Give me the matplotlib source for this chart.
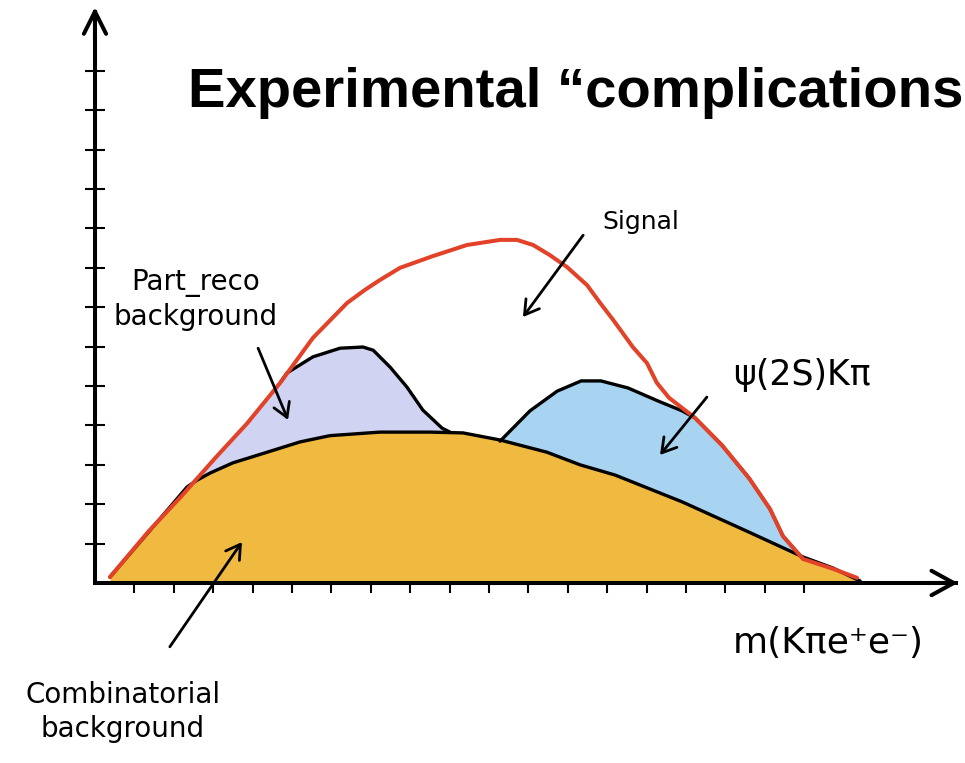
import numpy as np
import matplotlib
matplotlib.use('Agg')
import matplotlib.pyplot as plt

# curve values (x and y in tick units)
signal_x = [0.38, 1.36, 2.20, 3.05, 3.86, 4.70, 5.53, 6.40, 6.85, 7.23, 7.74, 8.58, 9.44,
            10.28, 10.71, 11.12, 11.55, 11.98, 12.49, 12.82, 13.15, 13.65, 14.01, 14.26, 14.57,
            15.23, 15.91, 16.60, 17.13, 17.46, 17.97, 18.73, 19.34]
signal_y = [0.15, 1.31, 2.21, 3.17, 4.05, 5.08, 6.22, 7.11, 7.44, 7.69, 8.00, 8.30, 8.58,
            8.71, 8.71, 8.58, 8.32, 8.02, 7.56, 7.11, 6.68, 5.99, 5.58, 5.08, 4.70,
            4.19, 3.50, 2.66, 1.88, 1.19, 0.61, 0.36, 0.13]

comb_x = [0.38, 1.47, 2.34, 2.59, 2.92, 3.50, 4.37, 5.20, 5.96, 7.23, 8.50, 9.34, 10.28, 11.47,
          12.31, 13.20, 14.90, 16.60, 17.97, 18.73, 19.42]
comb_y = [0.15, 1.42, 2.44, 2.61, 2.79, 3.05, 3.32, 3.58, 3.74, 3.83, 3.83, 3.81, 3.63, 3.32,
          3.00, 2.74, 2.06, 1.29, 0.66, 0.38, 0.05]

partreco_x = [1.36, 2.20, 3.05, 3.86, 4.70, 4.87, 5.53, 6.22, 6.80, 7.06, 7.49, 7.92, 8.32, 8.81, 9.01]
partreco_y = [1.31, 2.21, 3.17, 4.05, 5.08, 5.33, 5.74, 5.96, 5.99, 5.91, 5.48, 4.97, 4.39, 3.93, 3.83]

psi_x = [10.28, 11.04, 11.73, 12.34, 12.84, 13.53, 14.29, 14.90, 15.23, 15.91, 16.60, 17.13, 17.46, 17.97]
psi_y = [3.60, 4.37, 4.87, 5.13, 5.13, 4.95, 4.62, 4.37, 4.19, 3.50, 2.66, 1.88, 1.19, 0.61]

x_ticks = list(range(1, 19))
y_ticks = list(range(1, 14))

orange = '#F0BA40'
lavender = '#D0D4F2'
blue = '#A8D4F2'
red = '#E24228'

fig = plt.figure(figsize=(9.65, 7.63), dpi=100)
ax = fig.add_axes([0, 0, 1, 1])
ax.set_xlim(-2.41, 22.08)
ax.set_ylim(-4.57, 14.80)

# stacked shapes, orange on top hides the lower parts
ax.fill_between(partreco_x, 0, partreco_y, color=lavender, lw=0, zorder=1)
ax.fill_between(psi_x, 0, psi_y, color=blue, lw=0, zorder=1)
ax.fill_between(comb_x, 0, comb_y, color=orange, lw=0, zorder=2)

ax.plot(partreco_x[4:], partreco_y[4:], color='black', lw=2.4, zorder=3,
        solid_capstyle='round', solid_joinstyle='round')
ax.plot(psi_x, psi_y, color='black', lw=2.4, zorder=3,
        solid_capstyle='round', solid_joinstyle='round')
ax.plot(comb_x, comb_y, color='black', lw=2.4, zorder=3,
        solid_capstyle='round', solid_joinstyle='round')
ax.plot(signal_x, signal_y, color=red, lw=2.9, zorder=4,
        solid_capstyle='round', solid_joinstyle='round')

# hand drawn axes
for s in ['top', 'right']:
    ax.spines[s].set_visible(False)
ax.spines['left'].set_position(('data', 0))
ax.spines['bottom'].set_position(('data', 0))
ax.spines['left'].set_bounds(0, 14.5)
ax.spines['bottom'].set_bounds(0, 21.85)
for s in ['left', 'bottom']:
    ax.spines[s].set_linewidth(2.9)
    ax.spines[s].set_zorder(5)
ax.set_xticks(x_ticks)
ax.set_yticks(y_ticks)
ax.set_xticklabels([])
ax.set_yticklabels([])
ax.tick_params(axis='x', direction='out', length=7.5, width=1.5)
ax.tick_params(axis='y', direction='inout', length=14, width=1.5)

ax.annotate('', xy=(0, 14.62), xytext=(0, 13.8),
            arrowprops=dict(arrowstyle='->,head_length=0.4,head_width=0.2', lw=2.9,
                            mutation_scale=40, color='black', shrinkA=0, shrinkB=0), zorder=6)
ax.annotate('', xy=(21.9, 0), xytext=(21.0, 0),
            arrowprops=dict(arrowstyle='->,head_length=0.4,head_width=0.22', lw=2.9,
                            mutation_scale=40, color='black', shrinkA=0, shrinkB=0), zorder=6)

# pointer arrows
arr = dict(arrowstyle='->,head_length=0.5,head_width=0.3', lw=2, mutation_scale=20,
           color='black', shrinkA=0, shrinkB=0)
ax.annotate('', xy=(10.86, 6.75), xytext=(12.39, 8.83), arrowprops=arr, zorder=6)
ax.annotate('', xy=(4.90, 4.14), xytext=(4.14, 5.96), arrowprops=arr, zorder=6)
ax.annotate('', xy=(14.34, 3.25), xytext=(15.53, 4.72), arrowprops=arr, zorder=6)
ax.annotate('', xy=(3.73, 1.04), xytext=(1.90, -1.62), arrowprops=arr, zorder=6)

hand = dict(family='DejaVu Sans', color='black')
ax.text(13.86, 9.16, 'Signal', fontsize=18, ha='center', va='center', **hand)
ax.text(2.55, 7.18, 'Part_reco\nbackground', fontsize=20, ha='center', va='center',
        linespacing=1.25, **hand)
ax.text(17.94, 5.28, 'ψ(2S)Kπ', fontsize=25, ha='center', va='center', **hand)
ax.text(18.6, -1.52, 'm(Kπe⁺e⁻)', fontsize=26, ha='center', va='center', **hand)
ax.text(0.71, -3.27, 'Combinatorial\nbackground', fontsize=20, ha='center', va='center',
        linespacing=1.25, **hand)

fig.text(188 / 965, 1 - 107 / 763, 'Experimental \u201ccomplications', fontsize=40.5,
         family='Liberation Sans', weight='bold', ha='left', va='baseline')

fig.savefig('out.png', dpi=100)
